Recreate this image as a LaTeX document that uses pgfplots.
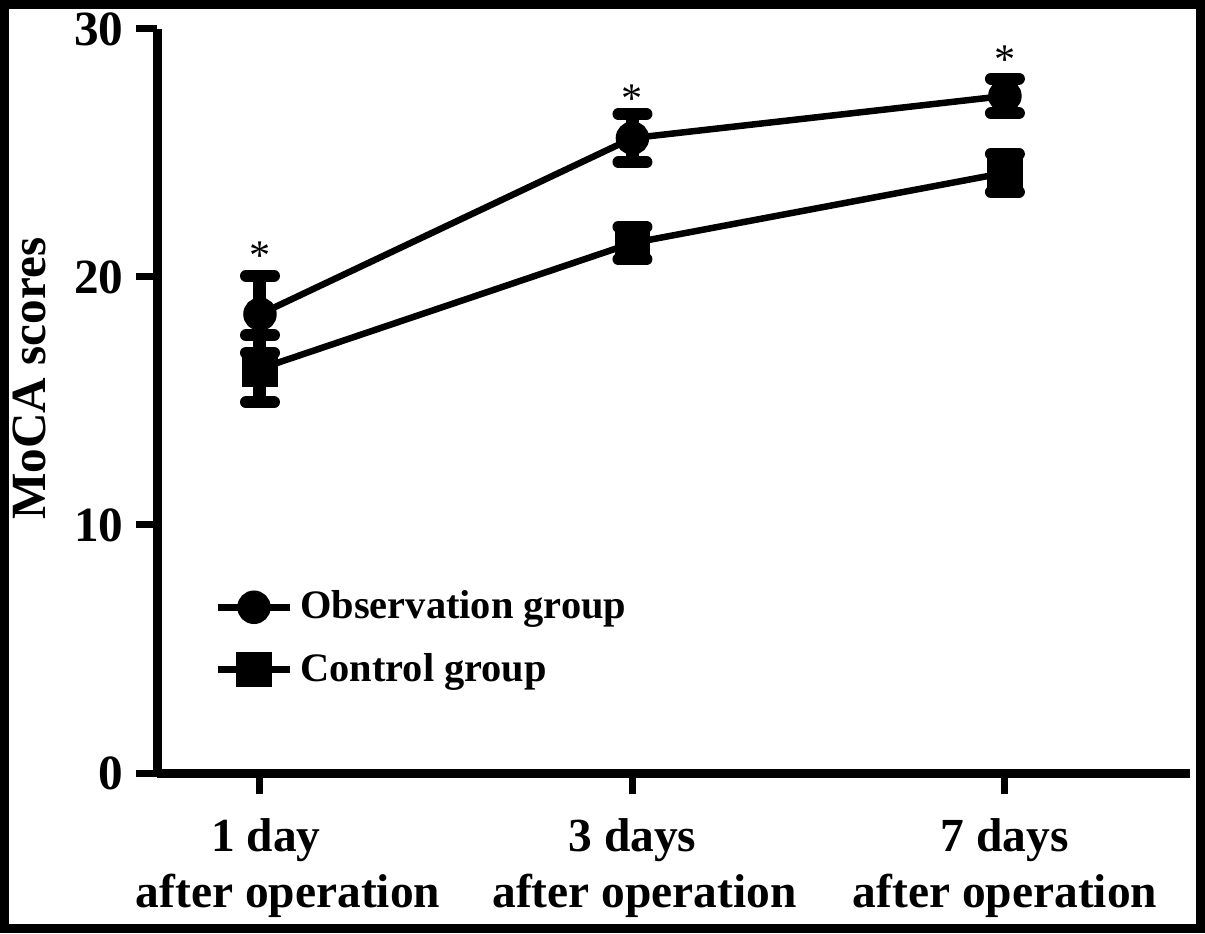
\documentclass[border=0pt]{standalone}
\usepackage{fontspec}
\setmainfont{Liberation Serif}
\usepackage{pgfplots}
\pgfplotsset{compat=1.18}
\begin{document}
\begin{tikzpicture}
\path[use as bounding box] (0,0) rectangle (12.05cm,9.33cm);
\begin{axis}[
  at={(1.57cm,1.60cm)}, anchor=south west,
  scale only axis, width=10.33cm, height=7.44cm,
  xmin=-0.2765, xmax=2.497, ymin=0, ymax=30,
  axis x line*=bottom, axis y line*=left,
  axis line style={line width=0.09cm, -},
  ytick={0,10,20,30}, xtick={0,1,2},
  xticklabels={{\hspace*{0.12cm}1 day\\\hspace*{0.56cm}after operation},{3 days\\\hspace*{0.24cm}after operation},{7 days\\after operation}},
  tick align=outside, major tick length=0.21cm,
  tick style={line width=0.07cm, black},
  x tick label style={align=center, yshift=-0.12cm, font=\fontsize{13.5}{16}\selectfont\bfseries},
  y tick label style={font=\fontsize{14}{16}\selectfont\bfseries},
  /pgf/number format/assume math mode=true,
  ylabel={MoCA scores},
  ylabel style={font=\fontsize{14}{16}\selectfont\bfseries, at={(axis description cs:-0.123,0.53)}, anchor=center},
  legend style={at={(axis description cs:0.045,0.265)}, anchor=north west, draw=none, fill=none,
    font=\fontsize{11.5}{13}\selectfont\bfseries, row sep=0.15cm},
  legend cell align=left,
  legend image code/.code={\draw[mark repeat=2,mark phase=2,#1] plot coordinates {(0cm,0cm) (0.36cm,0cm) (0.72cm,0cm)};},
  clip=false,
]
\addplot[black, line width=0.065cm, mark=*, mark size=0.135cm, mark options={solid},
  error bars/.cd, y dir=both, y explicit,
  error bar style={line width=0.13cm, black},
  error mark options={rotate=90, mark size=0.14cm, line width=0.12cm, line cap=round, black}]
  coordinates {(0,18.5) +- (0,1.55) (1,25.6) +- (0,0.97) (2,27.3) +- (0,0.7)};
\addlegendentry{Observation group}
\addplot[black, line width=0.065cm, mark=square*, mark size=0.145cm, mark options={solid},
  error bars/.cd, y dir=both, y explicit,
  error bar style={line width=0.13cm, black},
  error mark options={rotate=90, mark size=0.14cm, line width=0.12cm, line cap=round, black}]
  coordinates {(0,16.3) +- (0,1.35) (1,21.37) +- (0,0.66) (2,24.2) +- (0,0.77)};
\addlegendentry{Control group}
\addplot[draw=none, mark=none, nodes near coords={*}, point meta=y,
  every node near coord/.append style={anchor=center, font=\fontsize{12}{14}\selectfont}]
  coordinates {(0,20.85) (1,27.2) (2,28.75)};
\end{axis}
\draw[line width=0.09cm] (0.045cm,0.045cm) rectangle (12.005cm,9.285cm);
\end{tikzpicture}
\end{document}
